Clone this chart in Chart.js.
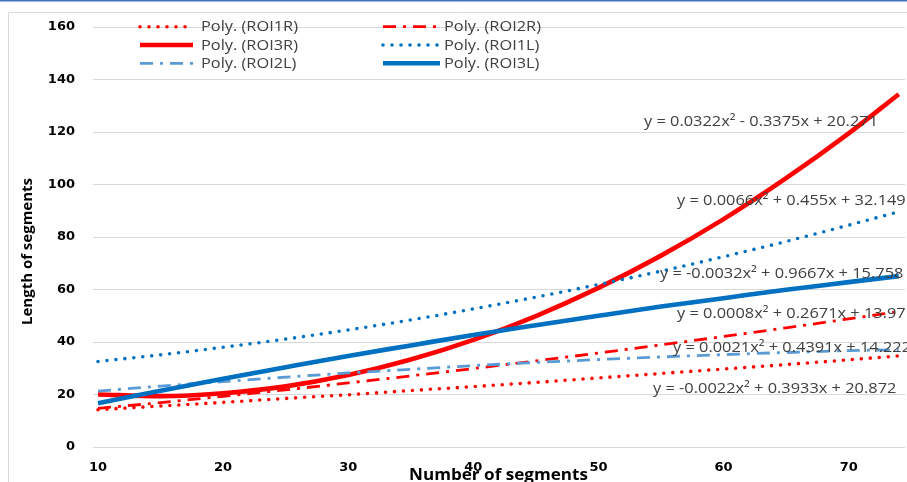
<!DOCTYPE html>
<html>
<head>
<meta charset="utf-8">
<script src="https://cdn.jsdelivr.net/npm/chart.js@4/dist/chart.umd.min.js"></script>
<style>
  html, body { margin: 0; padding: 0; background: #ffffff; }
  #wrap { width: 907px; height: 482px; position: relative; }
</style>
</head>
<body>
<div id="wrap"><canvas id="chart"></canvas></div>
<script>
// Number of segments (x) and fitted segment lengths for each ROI
const segments = [10, 15, 20, 25, 30, 35, 40, 45, 50, 55, 60, 65, 70, 74];
const roi1R = [14.2, 15.6, 17.0, 18.5, 19.9, 21.5, 23.0, 24.6, 26.3, 28.0, 29.7, 31.4, 33.2, 34.7];
const roi2R = [14.7, 16.9, 19.3, 21.8, 24.4, 27.1, 29.9, 32.8, 35.8, 38.9, 42.1, 45.4, 48.8, 51.6];
const roi3R = [20.0, 19.4, 20.5, 23.1, 27.4, 33.3, 40.8, 49.9, 60.6, 72.9, 86.8, 102.4, 119.5, 134.4];
const roi1L = [32.6, 35.1, 38.0, 41.1, 44.6, 48.4, 52.6, 57.1, 61.9, 67.0, 72.5, 78.3, 84.5, 89.6];
const roi2L = [21.3, 23.2, 24.9, 26.6, 28.2, 29.6, 31.0, 32.2, 33.3, 34.3, 35.2, 36.0, 36.7, 37.1];
const roi3L = [16.7, 21.4, 26.0, 30.4, 34.7, 38.7, 42.7, 46.4, 50.0, 53.5, 56.7, 59.9, 62.8, 65.1];

const seriesNames = ['Poly. (ROI1R)', 'Poly. (ROI2R)', 'Poly. (ROI3R)', 'Poly. (ROI1L)', 'Poly. (ROI2L)', 'Poly. (ROI3L)'];
const xTicks = [10, 20, 30, 40, 50, 60, 70];
const yTicks = [0, 20, 40, 60, 80, 100, 120, 140, 160];
const equations = [
  'y = 0.0322x\u00B2 - 0.3375x + 20.271',
  'y = 0.0066x\u00B2 + 0.455x + 32.149',
  'y = -0.0032x\u00B2 + 0.9667x + 15.758',
  'y = 0.0008x\u00B2 + 0.2671x + 13.97',
  'y = 0.0021x\u00B2 + 0.4391x + 14.222',
  'y = -0.0022x\u00B2 + 0.3933x + 20.872'
];

const RED = '#ff0000', BLUE = '#0070c0', LIGHTBLUE = '#5b9bd5';
const styles = [
  { color: RED, width: 3.6, dash: [0, 9], cap: 'round' },
  { color: RED, width: 2.8, dash: [13, 7, 3, 7], cap: 'butt' },
  { color: RED, width: 4.6, dash: [], cap: 'butt' },
  { color: BLUE, width: 3.6, dash: [0, 9], cap: 'round' },
  { color: LIGHTBLUE, width: 2.8, dash: [13, 7, 3, 7], cap: 'butt' },
  { color: BLUE, width: 4.6, dash: [], cap: 'butt' }
];
const values = [roi1R, roi2R, roi3R, roi1L, roi2L, roi3L];

const datasets = values.map((vals, i) => ({
  label: seriesNames[i],
  data: segments.map((x, k) => ({ x: x, y: vals[k] })),
  borderColor: styles[i].color,
  borderWidth: styles[i].width,
  borderDash: styles[i].dash,
  borderCapStyle: styles[i].cap,
  pointRadius: 0,
  fill: false,
  cubicInterpolationMode: 'monotone',
  order: 5 - i
}));

const TEXT = '#404040';
const FONT = '"Open Sans", sans-serif';
const TICK_FONT = '"DejaVu Sans", sans-serif';

// draw text squeezed or stretched horizontally by factor sx
function drawScaled(ctx, text, x, y, sx) {
  ctx.save();
  ctx.translate(x, y);
  ctx.scale(sx, 1);
  ctx.fillText(text, 0, 0);
  ctx.restore();
}

// Frame, legend, equations and axis titles drawn on the canvas
const decor = {
  id: 'decor',
  beforeDraw(chart) {
    const ctx = chart.ctx;
    ctx.save();
    ctx.fillStyle = '#ffffff';
    ctx.fillRect(0, 0, chart.width, chart.height);
    ctx.strokeStyle = '#4472c4';
    ctx.lineWidth = 1.5;
    ctx.beginPath(); ctx.moveTo(0, 0.75); ctx.lineTo(chart.width, 0.75); ctx.stroke();
    ctx.strokeStyle = '#d9d9d9';
    ctx.lineWidth = 1;
    ctx.beginPath();
    ctx.moveTo(8.5, chart.height); ctx.lineTo(8.5, 12.5); ctx.lineTo(chart.width, 12.5);
    ctx.stroke();
    ctx.restore();
  },
  afterDatasetsDraw(chart) {
    const ctx = chart.ctx;
    ctx.save();
    ctx.fillStyle = TEXT;
    ctx.font = '15px ' + FONT;
    ctx.textBaseline = 'alphabetic';
    ctx.textAlign = 'left';
    const sx = 234 / ctx.measureText(equations[0]).width;
    const pos = [[644, 126], [677, 205], [660, 278], [677, 318], [673, 352], [653, 393]];
    equations.forEach((t, i) => drawScaled(ctx, t, pos[i][0], pos[i][1], sx));
    ctx.restore();
  },
  afterDraw(chart) {
    const ctx = chart.ctx;
    ctx.save();
    // legend, two columns
    const cols = [[140, 193, 201], [383, 440, 444]];
    const rows = [26.7, 45, 63.3];
    const base = [31, 49.5, 67.7];
    ctx.font = '14px ' + FONT;
    ctx.textBaseline = 'alphabetic';
    ctx.textAlign = 'left';
    const lx = 97 / ctx.measureText(seriesNames[0]).width;
    chart.data.datasets.forEach((ds, i) => {
      const c = cols[i % 2], r = Math.floor(i / 2);
      ctx.strokeStyle = ds.borderColor;
      ctx.lineWidth = ds.borderWidth;
      ctx.setLineDash(ds.borderDash);
      ctx.lineCap = ds.borderCapStyle;
      ctx.beginPath(); ctx.moveTo(c[0], rows[r]); ctx.lineTo(c[1], rows[r]); ctx.stroke();
      ctx.setLineDash([]);
      ctx.fillStyle = TEXT;
      drawScaled(ctx, ds.label, c[2], base[r], lx);
    });
    // axis titles
    ctx.fillStyle = '#000000';
    ctx.font = 'bold 15.5px ' + FONT;
    ctx.textAlign = 'left';
    ctx.textBaseline = 'alphabetic';
    const xt = 'Number of segments';
    drawScaled(ctx, xt, 409, 480, 179 / ctx.measureText(xt).width);
    const yt = 'Length of segments';
    ctx.font = 'bold 14.5px ' + FONT;
    const yw = ctx.measureText(yt).width;
    ctx.translate(32, 325);
    ctx.rotate(-Math.PI / 2);
    drawScaled(ctx, yt, 0, 0, 147 / yw);
    ctx.restore();
  }
};

new Chart(document.getElementById('chart'), {
  type: 'line',
  data: { datasets: datasets },
  options: {
    responsive: true,
    maintainAspectRatio: false,
    devicePixelRatio: 1,
    animation: false,
    layout: { padding: { top: 27, right: 2, left: 0, bottom: 0 } },
    plugins: { legend: { display: false }, tooltip: { enabled: false } },
    scales: {
      x: {
        type: 'linear',
        min: 9.6,
        max: 74.5,
        afterBuildTicks(scale) { scale.ticks = xTicks.map(v => ({ value: v })); },
        afterFit(scale) { scale.height = 35; },
        grid: { display: false, drawTicks: false },
        border: { display: false },
        ticks: { padding: 13, color: '#000000', font: { family: TICK_FONT, size: 13, weight: 'bold' }, maxRotation: 0, autoSkip: false }
      },
      y: {
        min: 0,
        max: 160,
        afterBuildTicks(scale) { scale.ticks = yTicks.map(v => ({ value: v })); },
        afterFit(scale) { scale.width = 93; },
        grid: { color: '#d9d9d9', lineWidth: 1, drawTicks: false },
        border: { display: false },
        ticks: { padding: 18, color: '#000000', font: { family: TICK_FONT, size: 13, weight: 'bold' } }
      }
    }
  },
  plugins: [decor]
});
</script>
</body>
</html>
